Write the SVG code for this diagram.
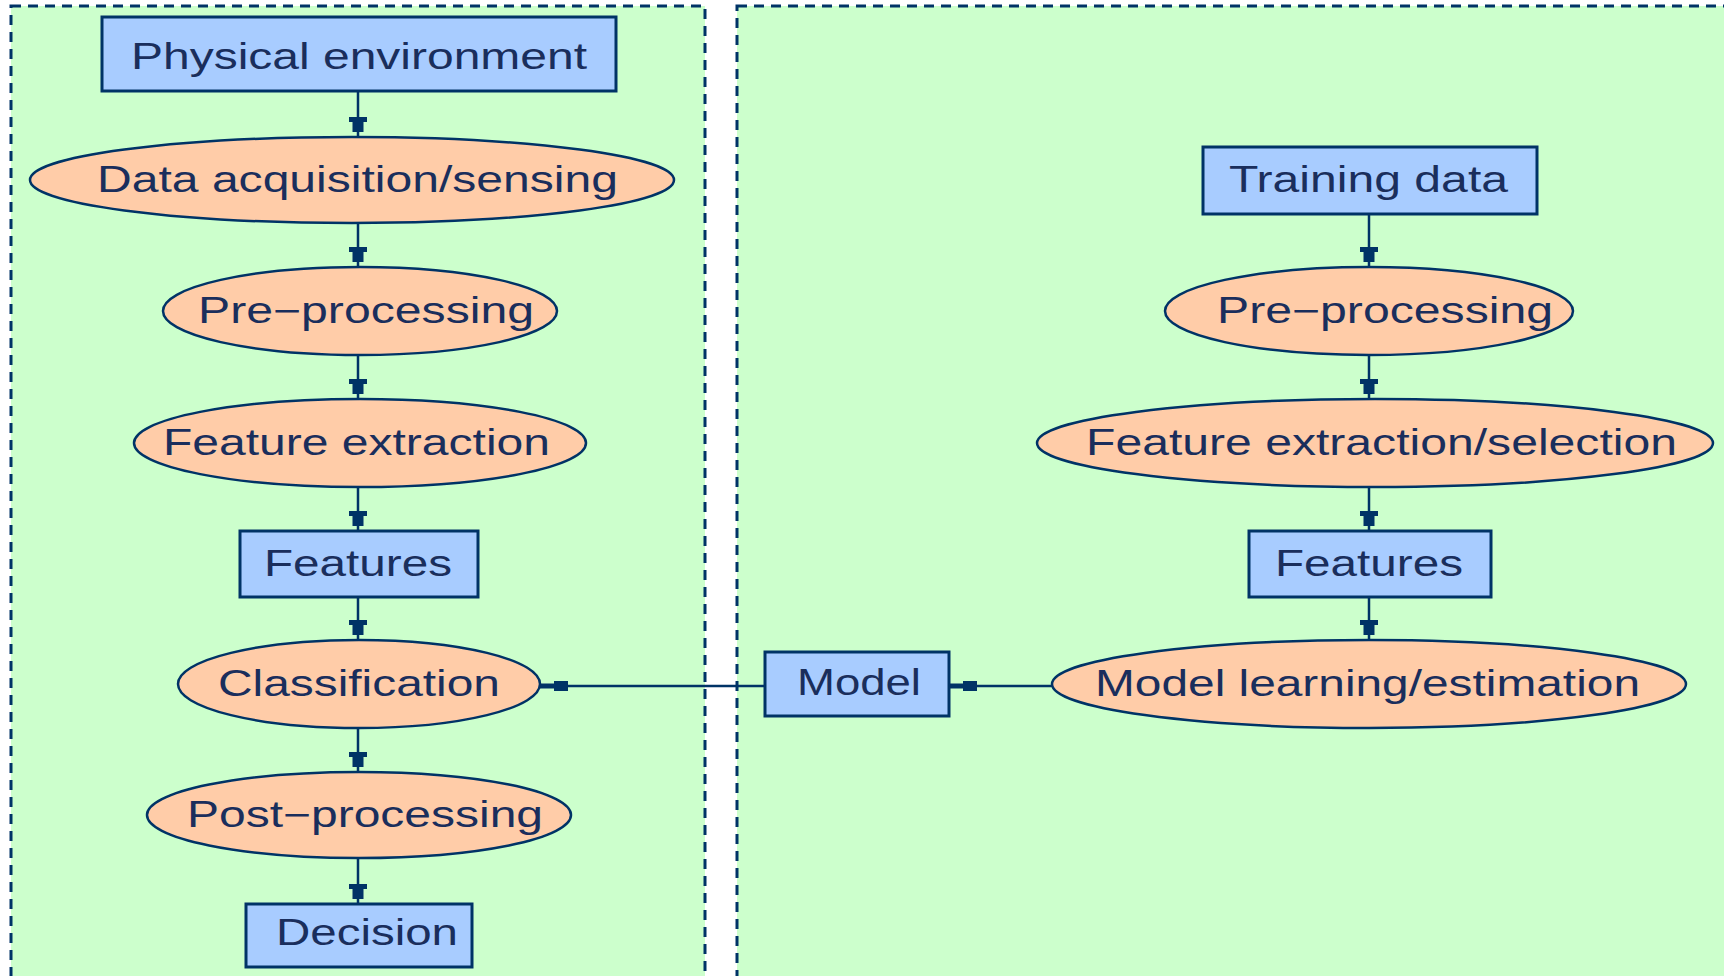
<svg xmlns="http://www.w3.org/2000/svg" width="1724" height="976" viewBox="0 0 1724 976">
  <style>
    .panel { fill: #ccffcc; stroke: #003366; stroke-width: 3; stroke-dasharray: 10 7; }
    .box { fill: #a8ccff; stroke: #003366; stroke-width: 3; }
    .oval { fill: #ffcca8; stroke: #003366; stroke-width: 2.5; }
    .label { font-family: "Liberation Sans", Arial, sans-serif; font-size: 36px; fill: #1a2e5c; }
    .edge { stroke: #003366; stroke-width: 2.5; fill: none; }
  </style>
  <defs>
    <marker id="arrV" markerUnits="userSpaceOnUse" viewBox="-25 -12 30 24" markerWidth="30" markerHeight="24" refX="0" refY="0" orient="auto">
      <path d="M-20,-9 H-15 V-5.5 H-5 V5.5 H-15 V9 H-20 Z" fill="#003366"/>
    </marker>
    <marker id="arrH" markerUnits="userSpaceOnUse" viewBox="-32 -8 34 16" markerWidth="34" markerHeight="16" refX="0" refY="0" orient="auto">
      <path d="M-28,-5 H-14 V-2.5 H0 V2.5 H-14 V5 H-28 Z" fill="#003366"/>
    </marker>
  </defs>

  <rect x="0" y="0" width="1724" height="976" fill="#ffffff"/>

  <!-- panels -->
  <rect class="panel" x="11" y="6" width="694" height="990"/>
  <rect class="panel" x="737" y="6" width="1010" height="990"/>

  <!-- connectors -->
  <g id="connectors">
    <line class="edge" x1="358" y1="91" x2="358" y2="137" marker-end="url(#arrV)"/>
    <line class="edge" x1="358" y1="223" x2="358" y2="267" marker-end="url(#arrV)"/>
    <line class="edge" x1="358" y1="355" x2="358" y2="399" marker-end="url(#arrV)"/>
    <line class="edge" x1="358" y1="487" x2="358" y2="531" marker-end="url(#arrV)"/>
    <line class="edge" x1="358" y1="597" x2="358" y2="640" marker-end="url(#arrV)"/>
    <line class="edge" x1="358" y1="728" x2="358" y2="772" marker-end="url(#arrV)"/>
    <line class="edge" x1="358" y1="858" x2="358" y2="904" marker-end="url(#arrV)"/>

    <line class="edge" x1="1369" y1="214" x2="1369" y2="267" marker-end="url(#arrV)"/>
    <line class="edge" x1="1369" y1="355" x2="1369" y2="399" marker-end="url(#arrV)"/>
    <line class="edge" x1="1369" y1="487" x2="1369" y2="531" marker-end="url(#arrV)"/>
    <line class="edge" x1="1369" y1="597" x2="1369" y2="640" marker-end="url(#arrV)"/>

    <line class="edge" x1="1053" y1="686" x2="949" y2="686" marker-end="url(#arrH)"/>
    <line class="edge" x1="765" y1="686" x2="540" y2="686" marker-end="url(#arrH)"/>
  </g>

  <!-- recognition chain -->
  <g id="physical-environment">
    <rect class="box" x="102" y="17" width="514" height="74"/>
    <text class="label" x="131" y="69" textLength="456" lengthAdjust="spacingAndGlyphs">Physical environment</text>
  </g>
  <g id="data-acquisition">
    <ellipse class="oval" cx="352" cy="180" rx="322" ry="43"/>
    <text class="label" x="97" y="192" textLength="521" lengthAdjust="spacingAndGlyphs">Data acquisition/sensing</text>
  </g>
  <g id="pre-processing-left">
    <ellipse class="oval" cx="360" cy="311" rx="197" ry="44"/>
    <text class="label" x="198" y="323" textLength="336" lengthAdjust="spacingAndGlyphs">Pre−processing</text>
  </g>
  <g id="feature-extraction">
    <ellipse class="oval" cx="360" cy="443" rx="226" ry="44"/>
    <text class="label" x="163" y="455" textLength="387" lengthAdjust="spacingAndGlyphs">Feature extraction</text>
  </g>
  <g id="features-left">
    <rect class="box" x="240" y="531" width="238" height="66"/>
    <text class="label" x="264" y="576" textLength="188" lengthAdjust="spacingAndGlyphs">Features</text>
  </g>
  <g id="classification">
    <ellipse class="oval" cx="359" cy="684" rx="181" ry="44"/>
    <text class="label" x="218" y="696" textLength="282" lengthAdjust="spacingAndGlyphs">Classification</text>
  </g>
  <g id="post-processing">
    <ellipse class="oval" cx="359" cy="815" rx="212" ry="43"/>
    <text class="label" x="187" y="827" textLength="356" lengthAdjust="spacingAndGlyphs">Post−processing</text>
  </g>
  <g id="decision">
    <rect class="box" x="246" y="904" width="226" height="63"/>
    <text class="label" x="276" y="945" textLength="182" lengthAdjust="spacingAndGlyphs">Decision</text>
  </g>

  <!-- model -->
  <g id="model">
    <rect class="box" x="765" y="652" width="184" height="64"/>
    <text class="label" x="797" y="695" textLength="124" lengthAdjust="spacingAndGlyphs">Model</text>
  </g>

  <!-- training chain -->
  <g id="training-data">
    <rect class="box" x="1203" y="147" width="334" height="67"/>
    <text class="label" x="1229" y="192" textLength="279" lengthAdjust="spacingAndGlyphs">Training data</text>
  </g>
  <g id="pre-processing-right">
    <ellipse class="oval" cx="1369" cy="311" rx="204" ry="44"/>
    <text class="label" x="1217" y="323" textLength="336" lengthAdjust="spacingAndGlyphs">Pre−processing</text>
  </g>
  <g id="feature-extraction-selection">
    <ellipse class="oval" cx="1375" cy="443" rx="338" ry="44"/>
    <text class="label" x="1086" y="455" textLength="591" lengthAdjust="spacingAndGlyphs">Feature extraction/selection</text>
  </g>
  <g id="features-right">
    <rect class="box" x="1249" y="531" width="242" height="66"/>
    <text class="label" x="1275" y="576" textLength="188" lengthAdjust="spacingAndGlyphs">Features</text>
  </g>
  <g id="model-learning">
    <ellipse class="oval" cx="1369" cy="684" rx="317" ry="44"/>
    <text class="label" x="1095" y="696" textLength="545" lengthAdjust="spacingAndGlyphs">Model learning/estimation</text>
  </g>
</svg>
